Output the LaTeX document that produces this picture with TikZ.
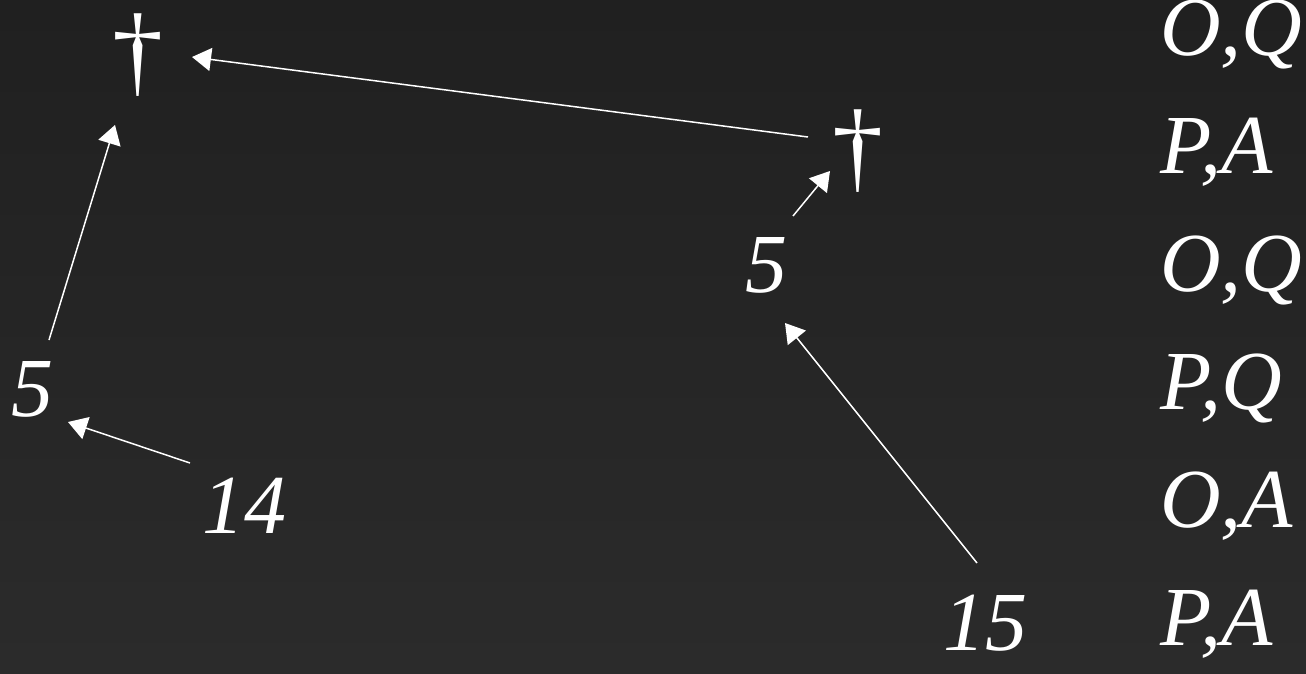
\documentclass[tikz,border=0pt]{standalone}
\usepackage{fontspec}
\setmainfont{LiberationSerif}[Extension=.ttf,UprightFont=*-Regular,ItalicFont=*-Italic]
\usepackage{tikz}
\usetikzlibrary{arrows.meta,calc}
\definecolor{bgtop}{HTML}{202020}
\definecolor{bgbot}{HTML}{2B2B2B}

\begin{document}
\begin{tikzpicture}[x=1pt,y=-1pt,
  lbl/.style={text=white,inner sep=0pt,anchor=base,font=\fontsize{84}{100}\selectfont\itshape},
  dag/.style={text=white,inner sep=0pt,font=\fontsize{102}{120}\selectfont},
  arr/.style={draw=white,line width=1.5pt,-{Triangle[length=19pt,width=23pt]}}]
\shade[top color=bgtop,bottom color=bgbot] (0,0) rectangle (1306,673);
\useasboundingbox (0,0) rectangle (1306,673);

% daggers and numbers
\node[dag] (d1) at (138,55) {†};
\node[dag] (d2) at (858,151) {†};
\node[lbl] (fa) at (32,416) {5};
\node[lbl] (fb) at (766,292) {5};
\node[lbl] (n14) at (244,533) {14};
\node[lbl] (n15) at (985,650) {15};

% right column
\foreach \t [count=\i] in {{O,Q},{P,A},{O,Q},{P,Q},{O,A},{P,A}}
  \node[lbl,anchor=base west] (r\i) at (1160,{118*\i-63}) {\t};

\draw[arr] ($(d2.center)+(-50,-14)$) -- ($(d1.center)+(54,2)$);
\draw[arr] ($(fa.base)+(17,-76)$) -- ($(d1.center)+(-23,70)$);
\draw[arr] ($(n14.base)+(-54,-70)$) -- ($(fa.base)+(36,6)$);
\draw[arr] ($(fb.base)+(27,-76)$) -- ($(d2.center)+(-28,20)$);
\draw[arr] ($(n15.base)+(-8,-87)$) -- ($(fb.base)+(19,31)$);
\end{tikzpicture}
\end{document}
